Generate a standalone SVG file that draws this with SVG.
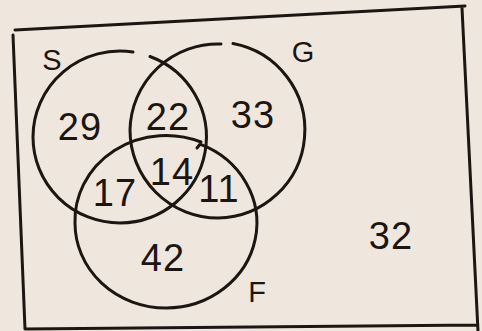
<svg xmlns="http://www.w3.org/2000/svg" width="482" height="331" viewBox="0 0 482 331">
<style>
.ln{fill:none;stroke:#1c1612;stroke-width:3;stroke-linecap:round;stroke-linejoin:round}
.n{font-family:"Liberation Sans",Arial,sans-serif;font-size:38px;letter-spacing:1px;fill:#1c1612;text-anchor:middle}
.l{font-family:"Liberation Sans",Arial,sans-serif;font-size:29px;fill:#1c1612;text-anchor:middle}
</style>
<rect width="482" height="331" fill="#efe7dd"/>
<g id="frame">
<path class="ln" d="M15,30 L465,6 M13,35 L25,329 L477,325 M462,8 L478,331"/>
</g>
<g id="connectors"></g>
<g id="S">
<path class="ln" d="M150,56.5 A87,86 0 0,1 120,223 A87,86 0 0,1 33,137 A87,86 0 0,1 133,52"/>
<text class="l" x="52" y="70">S</text>
</g>
<g id="G">
<path class="ln" d="M233,43.5 A88,88 0 0,1 218,218 A88,88 0 0,1 130,130 A88,88 0 0,1 221,44"/>
<text class="l" x="303" y="62">G</text>
</g>
<g id="F">
<path class="ln" d="M197,148 L200,144.2 A91,85 0 0,1 166,308 A91,85 0 0,1 75,223 A91,85 0 0,1 201,142"/>
<text class="l" x="257" y="302">F</text>
</g>
<g id="values">
<text class="n" x="80" y="140">29</text>
<text class="n" x="168" y="130">22</text>
<text class="n" x="253" y="128">33</text>
<text class="n" x="172" y="185">14</text>
<text class="n" x="115" y="206">17</text>
<text class="n" x="219" y="202">11</text>
<text class="n" x="163" y="271">42</text>
<text class="n" x="391" y="249">32</text>
</g>
</svg>
